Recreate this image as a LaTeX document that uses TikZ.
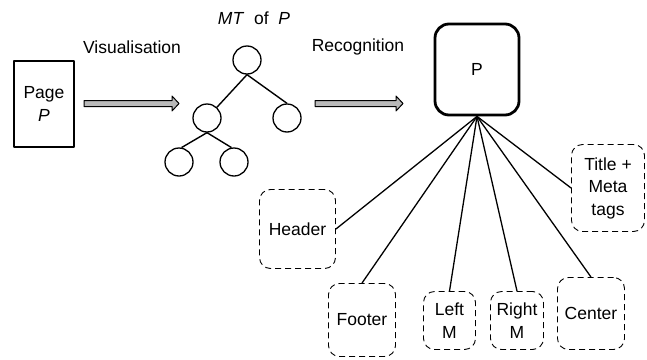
\documentclass[tikz,border=0pt]{standalone}
\usepackage{fontspec}
\setmainfont{Liberation Sans}
\usetikzlibrary{calc}

\newcommand{\fatarrow}[2]{%
  \draw[fatarrow] ($(#1)+(0,-3)$) -- ($(#2)+(-7,-3)$) -- ($(#2)+(-7,-7.5)$)
    -- (#2) -- ($(#2)+(-7,7.5)$) -- ($(#2)+(-7,3)$) -- ($(#1)+(0,3)$) -- cycle;}

\begin{document}
\begin{tikzpicture}[x=1pt, y=-1pt, line join=round,
  font=\fontsize{17.5}{22.5}\selectfont,
  pagebox/.style={draw, line width=2.8pt, minimum width=60, minimum height=86, inner sep=0pt, align=center},
  rootbox/.style={draw, line width=2.8pt, rounded corners=14pt, minimum width=84, minimum height=91, inner sep=0pt},
  partbox/.style={draw, dash pattern=on 6pt off 4pt, line width=0.9pt, rounded corners=11pt, inner sep=0pt, align=center},
  treenode/.style={draw, circle, line width=1.3pt, minimum size=28, inner sep=0pt},
  treeedge/.style={line width=1.4pt},
  partedge/.style={line width=1.3pt},
  fatarrow/.style={draw=black, fill=gray!55, line width=1pt},
  caption/.style={inner sep=0pt}]

  %% ════ 页面 P ════
  \node[pagebox] (page) at (44,104) {Page\\\textit{P}};

  %% ════ 标注 ════
  \node[caption] (vislbl) at (132,47) {Visualisation};
  \node[caption] (reclbl) at (358,47) {Recognition};
  \node[caption] (mtlbl)  at (254,18) {\textit{MT}~~of~~\textit{P}};

  %% ════ 树 MT ════
  \node[treenode] (root) at (247,60)  {};
  \node[treenode] (lc)   at (207,118) {};
  \node[treenode] (rc)   at (287,118) {};
  \node[treenode] (ll)   at (179,162) {};
  \node[treenode] (lr)   at (234,162) {};
  \draw[treeedge] (root.south) -- (lc);
  \draw[treeedge] (root.south) -- (rc.north);
  \draw[treeedge] (lc.south) -- (ll.80);
  \draw[treeedge] (lc.south) -- (lr.100);

  %% ════ 粗箭头 ════
  \coordinate (a1s) at (84,103.5);
  \coordinate (a1e) at (179,103.5);
  \coordinate (a2s) at (315,103.5);
  \coordinate (a2e) at (403,103.5);
  \fatarrow{a1s}{a1e}
  \fatarrow{a2s}{a2e}

  %% ════ 识别结果 P 及其部件 ════
  \node[rootbox] (pbox) at (477,69.5) {P};
  \node[partbox, minimum width=76, minimum height=79] (header) at (297.5,229) {Header};
  \node[partbox, minimum width=67, minimum height=73] (footer) at (362,320) {Footer};
  \node[partbox, minimum width=52, minimum height=58] (leftm)  at (449.5,320.5) {Left\\M};
  \node[partbox, minimum width=53, minimum height=58] (rightm) at (517,320.5) {Right\\M};
  \node[partbox, minimum width=67, minimum height=72] (center) at (591,313.5) {Center};
  \node[partbox, minimum width=73, minimum height=87] (title)  at (608,188) {Title +\\Meta\\tags};

  \foreach \part/\side in {header/east, footer/north, leftm/north, rightm/north, center/north, title/west}
    \draw[partedge] (pbox.south) -- (\part.\side);

  % 钉死画布
  \pgfresetboundingbox
  \path[use as bounding box] (0,0) rectangle (647,359);
\end{tikzpicture}
\end{document}
